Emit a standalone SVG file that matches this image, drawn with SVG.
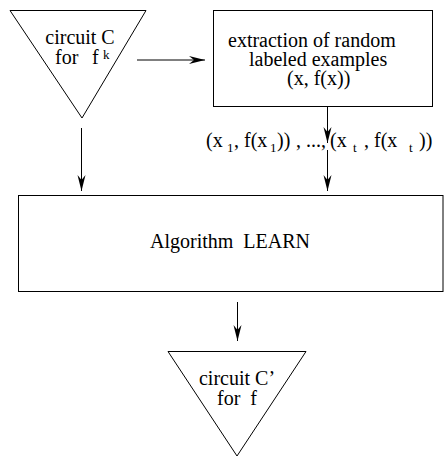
<svg xmlns="http://www.w3.org/2000/svg" width="444" height="457" viewBox="0 0 444 457">
<style>
.s{fill:none;stroke:#000;stroke-width:1}
.t{font-family:"Liberation Serif","Times New Roman",serif;font-size:20px;fill:#000;white-space:pre}
.sub{font-size:13px}
.ln{fill:none;stroke:#000;stroke-width:1}
</style>
<defs>
<marker id="ah" viewBox="-16 -5 17 10" refX="0" refY="0" markerWidth="17" markerHeight="10" markerUnits="userSpaceOnUse" orient="auto">
<path d="M0,0 L-16,-4 L-11,0 L-16,4 Z" fill="#000"/>
</marker>
</defs>
<rect width="444" height="457" fill="#fff"/>
<g id="circuitC">
<polygon class="s" points="10,10.5 146,10.5 82,118"/>
<text class="t" x="80" y="44" text-anchor="middle">circuit C</text>
<text class="t" x="55" y="64">for</text>
<text class="t" x="92" y="64">f</text>
<text class="t" x="103" y="59" style="font-size:13px">k</text>
</g>
<g id="extraction">
<rect class="s" x="213.5" y="10.5" width="219" height="96"/>
<text class="t" x="228" y="47">extraction of random</text>
<text class="t" x="249" y="66">labeled examples</text>
<text class="t" x="287" y="85">(x, f(x))</text>
</g>
<g id="examples">
<text class="t" y="147"><tspan x="206">(x</tspan><tspan x="227" dy="5" class="sub">1</tspan><tspan x="234" dy="-5">, f(x</tspan><tspan x="270" dy="5" class="sub">1</tspan><tspan x="277" dy="-5">))</tspan><tspan x="291"> , ...,</tspan><tspan x="330">(x</tspan><tspan x="353" dy="5" class="sub">t</tspan><tspan x="359" dy="-5"> , f(x</tspan><tspan x="409" dy="5" class="sub">t</tspan><tspan x="419" dy="-5">))</tspan></text>
</g>
<g id="learn">
<rect class="s" x="18.5" y="195.5" width="424.5" height="96"/>
<text class="t" x="230" y="248" text-anchor="middle">Algorithm  LEARN</text>
</g>
<g id="circuitC2">
<polygon class="s" points="168,351.5 306,351.5 237,456"/>
<text class="t" x="237" y="385" text-anchor="middle">circuit C’</text>
<text class="t" x="237" y="405" text-anchor="middle">for  f</text>
</g>
<g id="connectors">
<line class="ln" x1="137" y1="60" x2="205" y2="60" marker-end="url(#ah)"/>
<line class="ln" x1="81.5" y1="128" x2="81.5" y2="191" marker-end="url(#ah)"/>
<line class="ln" x1="327.5" y1="107" x2="327.5" y2="143" marker-end="url(#ah)"/>
<line class="ln" x1="327.5" y1="150" x2="327.5" y2="191" marker-end="url(#ah)"/>
<line class="ln" x1="237.5" y1="302" x2="237.5" y2="341" marker-end="url(#ah)"/>
</g>
</svg>
